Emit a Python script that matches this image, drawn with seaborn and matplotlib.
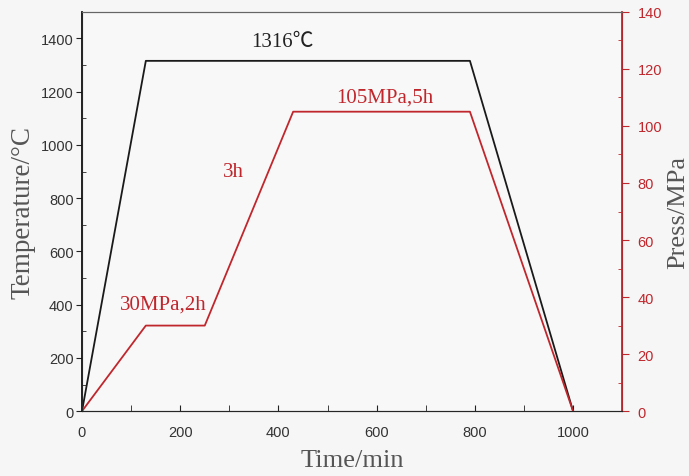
import pandas as pd
import matplotlib.pyplot as plt
import seaborn as sns
from matplotlib.ticker import MultipleLocator

# hot isostatic pressing cycle: temperature + pressure vs time
time_temp = [0, 130, 790, 1000]
temperature = [0, 1316, 1316, 0]

time_press = [0, 130, 250, 430, 790, 1000]
pressure = [0, 30, 30, 105, 105, 0]

red = '#c0272d'
grey = '#555555'

sns.set_style("ticks")
plt.rcParams['font.family'] = ['Liberation Sans', 'DejaVu Sans']

df_t = pd.DataFrame({'time': time_temp, 'temp': temperature})
df_p = pd.DataFrame({'time': time_press, 'press': pressure})

fig = plt.figure(figsize=(6.89, 4.77), dpi=100, facecolor='#f6f6f6')
ax = fig.add_axes([0.119, 0.136, 0.784, 0.837])
ax.set_facecolor('#f8f8f8')

sns.lineplot(data=df_t, x='time', y='temp', ax=ax, color='#1a1a1a', lw=1.3, sort=False)
ax.set_xlim(0, 1100)
ax.set_ylim(0, 1500)
ax.xaxis.set_major_locator(MultipleLocator(200))
ax.xaxis.set_minor_locator(MultipleLocator(100))
ax.yaxis.set_major_locator(MultipleLocator(200))
ax.yaxis.set_minor_locator(MultipleLocator(100))
ax.set_yticks(range(0, 1401, 200))
ax.tick_params(axis='x', which='both', direction='in', colors='#222222', labelcolor='#333333', labelsize=10.5, length=4, pad=10)
ax.tick_params(axis='y', which='major', direction='out', colors='#222222', labelcolor='#333333', labelsize=10.5, length=4, pad=2)
ax.tick_params(axis='y', which='minor', direction='in', length=3)
ax.set_xlabel('Time/min', family=['Liberation Serif'], fontsize=19, color=grey, labelpad=7)
ax.set_ylabel('Temperature/°C', family=['Liberation Serif'], fontsize=19.5, color=grey, labelpad=4)
ax.spines['top'].set_color('#666666')
ax.spines['left'].set_color('#111111')
ax.spines['bottom'].set_color('#333333')
ax.spines['left'].set_linewidth(1.3)

ax2 = ax.twinx()
sns.lineplot(data=df_p, x='time', y='press', ax=ax2, color=red, lw=1.3, sort=False)
ax2.set_ylim(0, 140)
ax2.yaxis.set_major_locator(MultipleLocator(20))
ax2.yaxis.set_minor_locator(MultipleLocator(10))
ax2.tick_params(axis='y', which='major', direction='out', colors=red, labelcolor=red, labelsize=10.5, length=5, pad=6)
ax2.tick_params(axis='y', which='minor', direction='in', colors=red, length=3)
ax2.spines['right'].set_color(red)
ax2.spines['right'].set_linewidth(1.3)
ax2.spines['top'].set_color('#666666')
ax2.set_ylabel('Press/MPa', family=['Liberation Serif'], fontsize=19, color=grey, labelpad=4)

ax.text(408, 1390, '1316℃', family=['Liberation Serif', 'Noto Sans CJK SC'], fontsize=15, color='#222222', ha='center', va='center')
ax2.text(616, 110, '105MPa,5h', family=['Liberation Serif'], fontsize=15, color=red, ha='center', va='center')
ax2.text(308, 84, '3h', family=['Liberation Serif'], fontsize=15, color=red, ha='center', va='center')
ax2.text(165, 37.5, '30MPa,2h', family=['Liberation Serif'], fontsize=15, color=red, ha='center', va='center')

fig.savefig('out.png', dpi=100, facecolor=fig.get_facecolor())
